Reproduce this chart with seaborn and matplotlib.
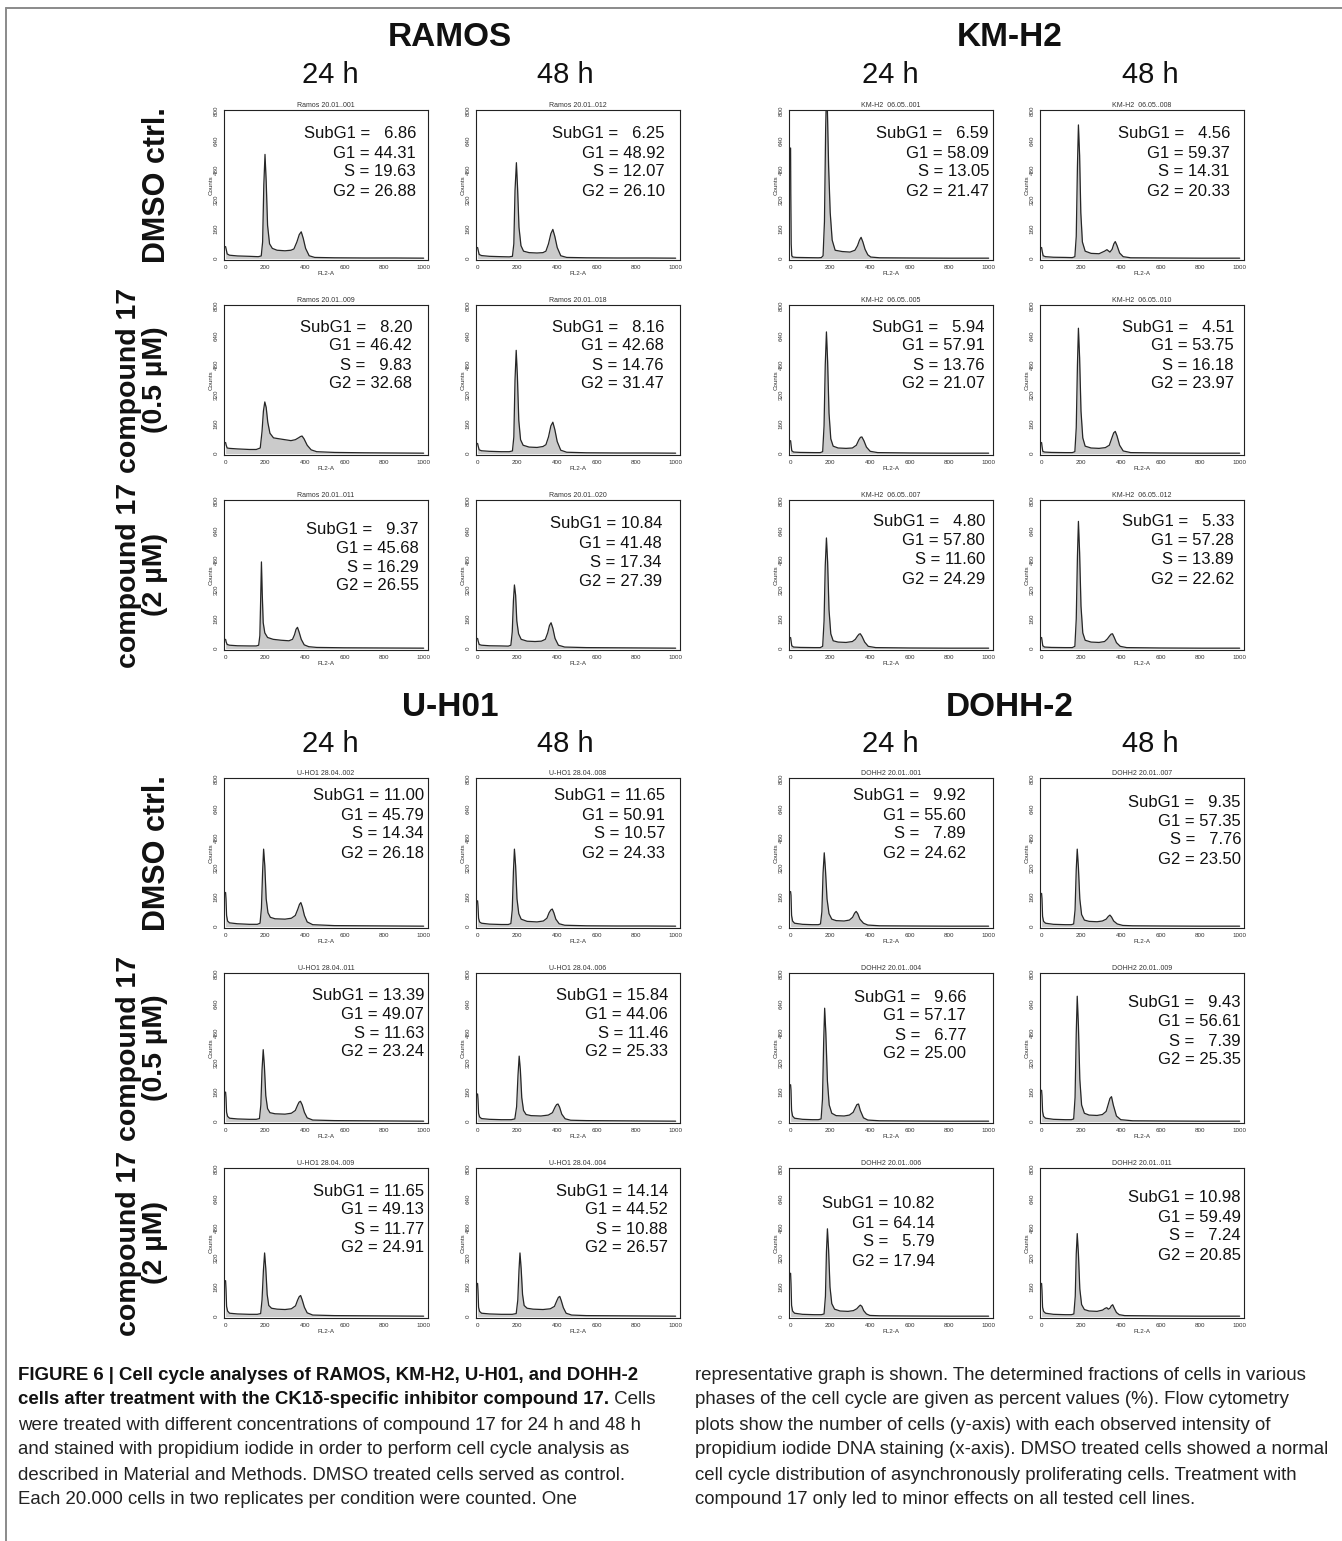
import matplotlib
matplotlib.use("Agg")
import matplotlib.pyplot as plt
import seaborn as sns
from matplotlib import font_manager
from matplotlib.ticker import MultipleLocator
from matplotlib.lines import Line2D

# ---------------- data ----------------
cell_lines = ["RAMOS", "KM-H2", "U-H01", "DOHH-2"]
timepoints = ["24 h", "48 h"]
treatments = ["DMSO ctrl.", "compound 17\n(0.5 µM)", "compound 17\n(2 µM)"]

# panel order: row by row, 4 panels per row
titles = [
    "Ramos 20.01..001", "Ramos 20.01..012", "KM-H2  06.05..001", "KM-H2  06.05..008",
    "Ramos 20.01..009", "Ramos 20.01..018", "KM-H2  06.05..005", "KM-H2  06.05..010",
    "Ramos 20.01..011", "Ramos 20.01..020", "KM-H2  06.05..007", "KM-H2  06.05..012",
    "U-HO1 28.04..002", "U-HO1 28.04..008", "DOHH2 20.01..001", "DOHH2 20.01..007",
    "U-HO1 28.04..011", "U-HO1 28.04..006", "DOHH2 20.01..004", "DOHH2 20.01..009",
    "U-HO1 28.04..009", "U-HO1 28.04..004", "DOHH2 20.01..006", "DOHH2 20.01..011",
]
subg1 = [6.86, 6.25, 6.59, 4.56, 8.20, 8.16, 5.94, 4.51, 9.37, 10.84, 4.80, 5.33,
         11.00, 11.65, 9.92, 9.35, 13.39, 15.84, 9.66, 9.43, 11.65, 14.14, 10.82, 10.98]
g1 = [44.31, 48.92, 58.09, 59.37, 46.42, 42.68, 57.91, 53.75, 45.68, 41.48, 57.80, 57.28,
      45.79, 50.91, 55.60, 57.35, 49.07, 44.06, 57.17, 56.61, 49.13, 44.52, 64.14, 59.49]
s_phase = [19.63, 12.07, 13.05, 14.31, 9.83, 14.76, 13.76, 16.18, 16.29, 17.34, 11.60, 13.89,
           14.34, 10.57, 7.89, 7.76, 11.63, 11.46, 6.77, 7.39, 11.77, 10.88, 5.79, 7.24]
g2 = [26.88, 26.10, 21.47, 20.33, 32.68, 31.47, 21.07, 23.97, 26.55, 27.39, 24.29, 22.62,
      26.18, 24.33, 24.62, 23.50, 23.24, 25.33, 25.00, 25.35, 24.91, 26.57, 17.94, 20.85]

# histogram outlines (FL2-A channel, counts)
channels = [
    [0, 3, 8, 20, 60, 120, 165, 180, 187, 193, 199, 205, 212, 222, 236, 260, 300, 330, 345, 360, 372, 382, 392, 404, 422, 450, 550, 700, 850, 1000],
    [0, 3, 8, 20, 60, 120, 160, 176, 183, 189, 196, 202, 209, 219, 232, 260, 300, 330, 345, 358, 370, 380, 390, 402, 420, 450, 550, 700, 850, 1000],
    [0, 1, 3, 6, 12, 30, 80, 140, 155, 164, 171, 177, 181, 186, 192, 200, 210, 225, 260, 300, 325, 338, 348, 356, 365, 376, 390, 405, 450, 600, 800, 1000],
    [0, 3, 8, 20, 60, 120, 155, 168, 175, 181, 186, 192, 198, 206, 220, 250, 290, 318, 330, 345, 356, 365, 372, 381, 394, 412, 450, 600, 800, 1000],
    [0, 3, 8, 20, 60, 120, 155, 175, 184, 191, 198, 205, 213, 224, 242, 270, 300, 330, 352, 368, 378, 386, 396, 412, 432, 460, 550, 700, 850, 1000],
    [0, 3, 8, 20, 60, 120, 160, 176, 183, 189, 195, 201, 208, 217, 230, 260, 300, 330, 345, 358, 370, 380, 390, 402, 420, 450, 550, 700, 850, 1000],
    [0, 2, 6, 15, 50, 120, 150, 162, 169, 175, 181, 187, 194, 203, 215, 240, 280, 312, 332, 345, 353, 360, 370, 383, 402, 440, 600, 800, 1000],
    [0, 2, 6, 15, 50, 120, 155, 168, 175, 181, 186, 192, 199, 208, 220, 250, 290, 322, 342, 355, 364, 372, 381, 394, 412, 450, 600, 800, 1000],
    [0, 3, 8, 20, 60, 120, 155, 167, 173, 177, 181, 185, 190, 198, 212, 240, 280, 320, 338, 348, 356, 363, 371, 382, 397, 420, 460, 600, 800, 1000],
    [0, 3, 8, 20, 60, 120, 155, 168, 175, 181, 186, 192, 198, 207, 220, 250, 290, 322, 342, 354, 363, 371, 380, 391, 408, 440, 550, 700, 850, 1000],
    [0, 2, 6, 15, 50, 120, 150, 162, 169, 175, 181, 187, 194, 203, 215, 240, 280, 312, 327, 338, 346, 352, 361, 374, 392, 430, 600, 800, 1000],
    [0, 2, 6, 15, 50, 120, 155, 168, 175, 181, 186, 192, 199, 208, 220, 250, 290, 318, 332, 343, 351, 358, 366, 378, 397, 430, 600, 800, 1000],
    [0, 2, 5, 10, 20, 60, 120, 160, 174, 181, 187, 192, 198, 205, 214, 226, 250, 300, 332, 352, 365, 373, 380, 388, 398, 412, 440, 550, 700, 850, 1000],
    [0, 2, 5, 10, 20, 60, 120, 155, 168, 175, 181, 186, 192, 199, 208, 220, 250, 300, 332, 350, 361, 370, 377, 385, 395, 412, 440, 550, 700, 850, 1000],
    [0, 2, 5, 10, 20, 60, 110, 140, 151, 158, 164, 170, 176, 184, 194, 208, 230, 270, 297, 313, 323, 331, 339, 350, 368, 390, 450, 600, 800, 1000],
    [0, 2, 5, 10, 20, 60, 120, 150, 162, 169, 175, 180, 186, 193, 202, 216, 240, 280, 307, 326, 337, 345, 353, 364, 382, 410, 460, 600, 800, 1000],
    [0, 2, 5, 10, 20, 60, 120, 155, 171, 178, 184, 190, 196, 203, 212, 224, 250, 300, 332, 352, 364, 371, 378, 387, 398, 412, 440, 550, 700, 850, 1000],
    [0, 2, 5, 10, 20, 60, 120, 170, 188, 197, 204, 210, 216, 223, 232, 245, 270, 320, 357, 378, 391, 399, 406, 414, 425, 442, 470, 550, 700, 850, 1000],
    [0, 2, 5, 10, 20, 60, 110, 140, 154, 161, 167, 172, 178, 186, 195, 208, 230, 270, 297, 316, 327, 335, 343, 352, 368, 390, 450, 600, 800, 1000],
    [0, 2, 5, 10, 20, 60, 120, 150, 162, 169, 175, 180, 186, 193, 202, 216, 240, 280, 307, 326, 337, 345, 353, 362, 378, 400, 460, 600, 800, 1000],
    [0, 2, 5, 10, 20, 60, 120, 160, 177, 184, 191, 197, 203, 210, 218, 232, 260, 300, 332, 353, 364, 372, 379, 387, 398, 412, 440, 550, 700, 850, 1000],
    [0, 2, 5, 10, 20, 60, 120, 175, 195, 203, 209, 214, 220, 227, 235, 250, 280, 330, 367, 388, 401, 408, 415, 422, 433, 447, 475, 550, 700, 850, 1000],
    [0, 2, 5, 10, 20, 60, 120, 155, 169, 176, 181, 186, 192, 199, 208, 222, 250, 290, 317, 334, 345, 352, 360, 369, 383, 400, 450, 600, 800, 1000],
    [0, 2, 5, 10, 20, 60, 120, 150, 163, 170, 175, 180, 186, 193, 202, 216, 240, 280, 308, 320, 329, 337, 345, 352, 359, 367, 378, 392, 420, 600, 800, 1000],
]
counts = [
    [65, 50, 25, 18, 14, 12, 10, 14, 90, 400, 565, 420, 180, 80, 55, 45, 42, 45, 52, 90, 130, 145, 110, 55, 15, 6, 4, 3, 3, 2],
    [60, 45, 22, 16, 12, 10, 9, 12, 80, 370, 520, 380, 170, 70, 40, 32, 30, 32, 40, 80, 135, 158, 120, 60, 15, 6, 4, 3, 3, 2],
    [600, 350, 80, 15, 8, 6, 5, 4, 5, 15, 200, 700, 900, 800, 500, 250, 100, 45, 38, 35, 45, 70, 100, 115, 90, 50, 20, 8, 4, 3, 2, 2],
    [60, 40, 15, 10, 7, 6, 5, 10, 120, 500, 725, 560, 250, 90, 40, 28, 26, 40, 48, 35, 50, 80, 92, 70, 30, 10, 4, 3, 2, 2],
    [60, 45, 30, 28, 25, 22, 22, 30, 120, 230, 280, 250, 170, 110, 85, 80, 75, 70, 75, 85, 92, 95, 80, 45, 20, 10, 6, 4, 3, 2],
    [55, 40, 20, 15, 12, 10, 10, 14, 90, 400, 560, 420, 180, 75, 45, 35, 33, 38, 48, 90, 150, 170, 130, 65, 18, 7, 4, 3, 3, 2],
    [70, 50, 15, 8, 6, 5, 5, 10, 150, 480, 660, 500, 220, 80, 40, 30, 28, 30, 45, 75, 88, 90, 70, 35, 12, 5, 3, 2, 2],
    [60, 40, 12, 8, 6, 5, 5, 10, 140, 480, 680, 520, 230, 85, 40, 30, 28, 32, 45, 85, 112, 120, 95, 45, 14, 5, 3, 2, 2],
    [50, 35, 22, 18, 15, 14, 14, 18, 70, 260, 470, 300, 140, 85, 60, 50, 45, 42, 50, 75, 105, 115, 90, 50, 20, 10, 6, 4, 3, 2],
    [55, 40, 22, 18, 15, 14, 13, 18, 90, 260, 345, 290, 150, 80, 50, 40, 38, 40, 50, 85, 125, 140, 110, 55, 18, 8, 5, 4, 3, 2],
    [60, 45, 15, 8, 6, 5, 5, 12, 150, 450, 600, 470, 210, 80, 42, 35, 33, 38, 50, 68, 78, 80, 65, 35, 12, 5, 3, 2, 2],
    [60, 45, 15, 8, 6, 5, 5, 12, 160, 500, 690, 520, 230, 85, 45, 35, 33, 38, 52, 68, 78, 80, 62, 32, 12, 5, 3, 2, 2],
    [185, 150, 60, 30, 20, 15, 12, 12, 18, 100, 300, 420, 330, 150, 75, 50, 42, 40, 45, 60, 95, 120, 130, 105, 60, 25, 10, 5, 4, 3, 2],
    [140, 110, 45, 25, 18, 13, 11, 11, 16, 90, 300, 420, 330, 150, 70, 40, 28, 25, 30, 45, 75, 90, 95, 75, 40, 15, 7, 4, 3, 3, 2],
    [190, 170, 60, 30, 18, 12, 10, 10, 14, 80, 290, 400, 310, 150, 70, 40, 32, 30, 35, 50, 72, 82, 70, 40, 18, 8, 4, 3, 2, 2],
    [180, 150, 55, 28, 18, 12, 10, 10, 14, 90, 310, 420, 320, 150, 65, 35, 28, 26, 30, 40, 55, 62, 52, 30, 14, 6, 4, 3, 2, 2],
    [160, 130, 50, 28, 18, 14, 12, 12, 16, 90, 280, 390, 300, 140, 70, 48, 42, 40, 45, 60, 90, 105, 110, 90, 50, 20, 8, 5, 4, 3, 2],
    [150, 120, 45, 25, 16, 12, 10, 10, 14, 80, 250, 355, 280, 130, 60, 38, 32, 30, 35, 48, 78, 92, 95, 78, 40, 15, 7, 5, 4, 3, 2],
    [200, 170, 60, 30, 18, 12, 10, 10, 14, 120, 430, 615, 480, 220, 90, 45, 32, 30, 35, 50, 75, 92, 95, 60, 20, 8, 4, 3, 2, 2],
    [170, 140, 55, 28, 18, 12, 10, 10, 14, 130, 480, 680, 520, 230, 90, 45, 35, 33, 38, 55, 95, 125, 135, 90, 30, 10, 4, 3, 2, 2],
    [195, 150, 55, 30, 18, 14, 12, 12, 16, 90, 250, 345, 260, 120, 60, 45, 40, 38, 42, 58, 90, 108, 114, 90, 50, 20, 8, 5, 4, 3, 2],
    [180, 140, 50, 28, 18, 14, 12, 12, 16, 90, 250, 345, 260, 120, 60, 45, 40, 38, 42, 55, 88, 104, 109, 88, 48, 18, 8, 5, 4, 3, 2],
    [235, 180, 60, 30, 18, 12, 10, 10, 14, 110, 350, 476, 360, 160, 70, 40, 30, 28, 32, 42, 55, 62, 55, 32, 14, 6, 4, 3, 2, 2],
    [180, 140, 50, 28, 18, 12, 10, 10, 14, 110, 340, 450, 340, 150, 65, 38, 30, 28, 35, 44, 48, 40, 45, 58, 64, 45, 22, 10, 5, 3, 2, 2],
]

caption_left = [
    "were treated with different concentrations of compound 17 for 24 h and 48 h",
    "and stained with propidium iodide in order to perform cell cycle analysis as",
    "described in Material and Methods. DMSO treated cells served as control.",
    "Each 20.000 cells in two replicates per condition were counted. One",
]
caption_right = [
    "representative graph is shown. The determined fractions of cells in various",
    "phases of the cell cycle are given as percent values (%). Flow cytometry",
    "plots show the number of cells (y-axis) with each observed intensity of",
    "propidium iodide DNA staining (x-axis). DMSO treated cells showed a normal",
    "cell cycle distribution of asynchronously proliferating cells. Treatment with",
    "compound 17 only led to minor effects on all tested cell lines.",
]

# ---------------- layout ----------------
W, H = 1342, 1541
col_left = [224, 476, 789, 1040]
row_top = [110, 305, 500, 778, 973, 1168]
ax_w, ax_h = 204, 150
# text box offsets inside panels (px from right spine, px from top spine)
txt_right = [12, 15, 4, 14, 16, 16, 8, 10, 9, 18, 8, 10, 4, 15, 27, 3, 4, 12, 27, 3, 4, 12, 58, 3]
txt_top = [24, 24, 24, 24, 22, 22, 22, 22, 29, 24, 22, 22, 18, 18, 18, 24, 22, 22, 24, 30, 23, 23, 36, 30]

sns.set_style("white")
names = {f.name for f in font_manager.fontManager.ttflist}
if "Liberation Sans Narrow" in names:
    cap_font, cap_size = "Liberation Sans Narrow", 15.5
else:
    cap_font, cap_size = "Liberation Sans", 13.4
SANS = ["Liberation Sans", "DejaVu Sans"]
plt.rcParams["font.family"] = SANS

fig = plt.figure(figsize=(W / 100, H / 100), dpi=100)


def fx(px):
    return px / W


def fy(py):
    return 1 - py / H


FILL = "#cbcbcb"
LINE = "#262626"

for i in range(24):
    r, c = divmod(i, 4)
    ax = fig.add_axes([fx(col_left[c]), fy(row_top[r] + ax_h), ax_w / W, ax_h / H])
    ax.fill_between(channels[i], counts[i], 0, color=FILL, lw=0)
    sns.lineplot(x=channels[i], y=counts[i], ax=ax, color=LINE, lw=0.9,
                 sort=False, estimator=None)
    ax.set_xlim(-8, 1022)
    ax.set_ylim(-8, 806)
    ax.set_xticks(range(0, 1001, 200))
    ax.set_yticks(range(0, 801, 160))
    ax.xaxis.set_minor_locator(MultipleLocator(50))
    ax.yaxis.set_minor_locator(MultipleLocator(40))
    ax.tick_params(which="major", length=2.5, width=0.6, labelsize=4.5, pad=1.2,
                   color="#222", labelcolor="#333")
    ax.tick_params(which="minor", length=1.4, width=0.5, color="#222")
    plt.setp(ax.get_yticklabels(), rotation=90, va="center")
    ax.set_xlabel("FL2-A", fontsize=4.5, labelpad=0.5, color="#333")
    ax.set_ylabel("Counts", fontsize=4.5, labelpad=0.5, color="#333")
    ax.set_title(titles[i], fontsize=5, pad=2, color="#333")
    for sp in ax.spines.values():
        sp.set_linewidth(0.8)
        sp.set_color("#222")

    vals = [("SubG1", subg1[i]), ("G1", g1[i]), ("S", s_phase[i]), ("G2", g2[i])]
    xr = fx(col_left[c] + ax_w - txt_right[i])
    for k, (name, v) in enumerate(vals):
        num = f"{v:.2f}"
        if v < 10:
            num = "  " + num
        fig.text(xr, fy(row_top[r] + txt_top[i] + 19 * k), f"{name} = {num}",
                 ha="right", va="center", fontsize=12, color="#111")

# block headers
for b, (y_name, y_time) in enumerate([(38, 75), (707, 744)]):
    for half in range(2):
        name = cell_lines[2 * b + half]
        cx = [450, 1010][half]
        fig.text(fx(cx), fy(y_name), name, ha="center", va="center",
                 fontsize=24, fontweight="bold", color="#111")
        for t in range(2):
            tx = [[330, 565], [890, 1150]][half][t]
            fig.text(fx(tx), fy(y_time), timepoints[t], ha="center", va="center",
                     fontsize=21, color="#111")

# row labels
for r in range(6):
    lab = treatments[r % 3]
    cy = row_top[r] + ax_h / 2
    single = "\n" not in lab
    fig.text(fx(157 if single else 142), fy(cy), lab, rotation=90, ha="center",
             va="center", fontsize=22 if single else 20.5, fontweight="bold",
             multialignment="center", linespacing=1.05, color="#111")

# frame lines
fig.add_artist(Line2D([fx(6), 1], [fy(8), fy(8)], color="#8a8a8a", lw=1.4))
fig.add_artist(Line2D([fx(6), fx(6)], [fy(8), 0], color="#8a8a8a", lw=1.4))

# caption
cap_y = [1375 + 25 * k for k in range(6)]
cx0, cx1 = 18, 695
fig.text(fx(cx0), fy(cap_y[0]),
         "FIGURE 6 | Cell cycle analyses of RAMOS, KM-H2, U-H01, and DOHH-2",
         ha="left", va="center", fontsize=cap_size, fontweight="bold",
         family=cap_font, color="#111")
renderer = fig.canvas.get_renderer()
tb = fig.text(fx(cx0), fy(cap_y[1]),
              "cells after treatment with the CK1δ-specific inhibitor compound 17.",
              ha="left", va="center", fontsize=cap_size, fontweight="bold",
              family=cap_font, color="#111")
bb = tb.get_window_extent(renderer)
fig.text(bb.x1 / fig.bbox.width, fy(cap_y[1]), " Cells", ha="left", va="center",
         fontsize=cap_size, family=cap_font, color="#222")
for k, line in enumerate(caption_left):
    fig.text(fx(cx0), fy(cap_y[k + 2]), line, ha="left", va="center",
             fontsize=cap_size, family=cap_font, color="#222")
for k, line in enumerate(caption_right):
    fig.text(fx(cx1), fy(cap_y[k]), line, ha="left", va="center",
             fontsize=cap_size, family=cap_font, color="#222")

fig.savefig("out.png", dpi=100)
